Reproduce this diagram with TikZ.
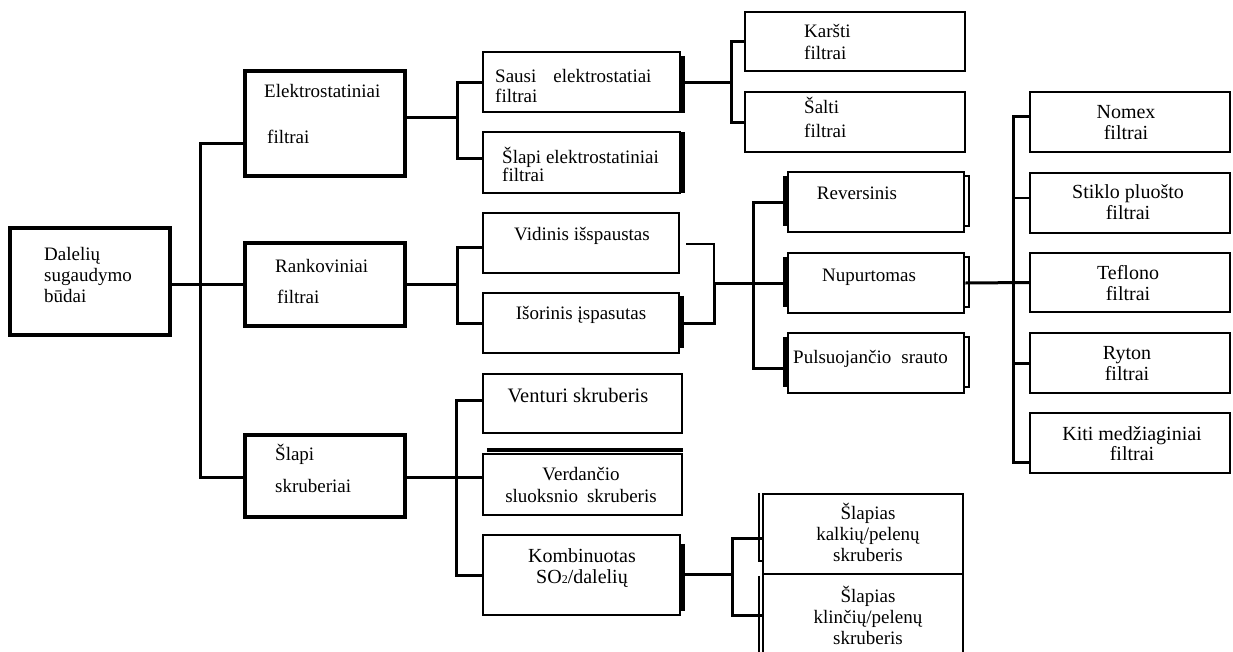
\documentclass[tikz,border=0pt]{standalone}
\usepackage{fontspec}
\setmainfont{Liberation Serif}
\begin{document}
\begin{tikzpicture}[x=1pt,y=-1pt,
  box/.style={draw, rectangle, line width=2.5pt, inner sep=0pt},
  heavybox/.style={box, line width=3.2pt},
  conn/.style={line width=3pt},
  thinconn/.style={line width=1.6pt},
  sidebar/.style={line width=3.8pt},
  bracket/.style={line width=1.8pt},
  txt/.style={inner sep=0pt, font=\fontsize{19}{21}\selectfont},
  midtxt/.style={inner sep=0pt, font=\fontsize{20}{21}\selectfont},
  bigtxt/.style={inner sep=0pt, font=\fontsize{20.5}{21}\selectfont}]
\useasboundingbox (0,0) rectangle (1233,651);

% ---- boxes
\node[heavybox, minimum width=160pt, minimum height=107pt] (root) at (90,281.5) {};
\node[heavybox, minimum width=160pt, minimum height=105pt] (elek) at (325,123.5) {};
\node[heavybox, minimum width=160pt, minimum height=83pt] (rank) at (325,284.5) {};
\node[heavybox, minimum width=160pt, minimum height=82pt] (slsk) at (325,476) {};

\node[box, minimum width=197pt, minimum height=60pt] (sausi) at (581.5,82) {};
\node[box, minimum width=197pt, minimum height=61pt] (slel) at (581.5,162.5) {};
\node[box, minimum width=220pt, minimum height=59pt] (karsti) at (855,41.5) {};
\node[box, minimum width=220pt, minimum height=60pt] (salti) at (855,122) {};

\node[box, minimum width=196pt, minimum height=60pt] (vid) at (581,243) {};
\node[box, minimum width=196pt, minimum height=60pt] (isor) at (581,323) {};
\node[box, minimum width=176pt, minimum height=60pt] (rev) at (876,202) {};
\node[box, minimum width=176pt, minimum height=60pt] (nup) at (876,283) {};
\node[box, minimum width=176pt, minimum height=60pt] (puls) at (876,363) {};

\node[box, minimum width=200pt, minimum height=60pt] (nomex) at (1130,122) {};
\node[box, minimum width=200pt, minimum height=60pt] (stiklo) at (1130,203) {};
\node[box, minimum width=200pt, minimum height=59pt] (tefl) at (1130,282.5) {};
\node[box, minimum width=200pt, minimum height=60pt] (ryton) at (1130,363) {};
\node[box, minimum width=200pt, minimum height=60pt] (kiti) at (1130,443) {};

\node[box, minimum width=199pt, minimum height=59pt] (vent) at (582.5,403.5) {};
\node[box, minimum width=199pt, minimum height=61pt] (verd) at (582.5,484.5) {};
\node[box, minimum width=197pt, minimum height=80pt] (komb) at (581.5,575) {};
\node[box, minimum width=200pt, minimum height=80pt] (kalk) at (863,534) {};
\node[box, minimum width=200pt, minimum height=86pt] (klin) at (863,617) {};

% ---- bus junctions
\coordinate (busE) at (457,117);
\coordinate (busS) at (731,82);
\coordinate (busR) at (457,284.5);
\coordinate (jV)   at (714,283);
\coordinate (busN) at (753,283);
\coordinate (busT) at (1013,283);
\coordinate (busW) at (456,477);
\coordinate (busK) at (732,574);

% ---- connectors
\draw[conn] ([yshift=-19.5pt]elek.west) -| ([xshift=-43pt]slsk.west |- busW) -- (slsk.west |- busW);
\draw[conn] (root.east |- rank.west) -- (rank.west);

\draw[conn] (elek.east |- busE) -- (busE);
\draw[conn] (sausi.west) -| (busE) |- ([yshift=4.5pt]slel.west);

\draw[conn] (sausi.east) -- (busS);
\draw[conn] (karsti.west) -| (busS) |- (salti.west);

\draw[conn] (rank.east |- busR) -- (busR);
\draw[conn] ([yshift=-4pt]vid.west) -| (busR) |- (isor.west);

\draw[thinconn] ([xshift=6pt,yshift=-1pt]vid.east) -| (jV);
\draw[conn] (isor.east) -| (jV);
\draw[conn] (jV) -- (nup.west);
\draw[conn] (rev.west) -| (busN) |- ([yshift=-5pt]puls.west);

\draw[conn] (nup.east) -- (tefl.west);
\draw[conn] ([yshift=6pt]nomex.west) -| (busT) |- ([yshift=-19pt]kiti.west);
\draw[thinconn] ([yshift=5pt]stiklo.west) -- ++(-17pt,0);
\draw[conn] (ryton.west) -- ++(-17pt,0);

\draw[conn] (slsk.east |- busW) -- (busW) -- (verd.west |- busW);
\draw[conn] ([yshift=3.5pt]vent.west) -| (busW) |- (komb.west);

\draw[conn] (komb.east |- busK) -- (busK);
\draw[conn] ([yshift=-4pt]kalk.west) -| (busK) |- ([yshift=2pt]klin.west);

% ---- heavy side edges
\draw[sidebar] ([xshift=1.5pt,yshift=-5pt]sausi.north east) -- ([xshift=1.5pt]sausi.south east);
\draw[sidebar] ([xshift=1.5pt,yshift=-1pt]slel.north east) -- ([xshift=1.5pt,yshift=1pt]slel.south east);
\draw[sidebar] ([xshift=1.5pt,yshift=-4pt]isor.north east) -- ([xshift=1.5pt,yshift=6pt]isor.south east);
\draw[sidebar] ([xshift=1.5pt,yshift=-10pt]komb.north east) -- ([xshift=1.5pt,yshift=5pt]komb.south east);
\foreach \b in {rev,nup,puls}{
  \draw[sidebar] ([xshift=-1.5pt,yshift=-5pt]\b.north west) -- ([xshift=-1.5pt,yshift=7pt]\b.south west);
  \draw[bracket] ([yshift=-5pt]\b.north east) -- ++(4pt,0) -- ([xshift=4pt,yshift=7pt]\b.south east) -- ++(-4pt,0);
}
\draw[sidebar] ([xshift=5pt,yshift=2.5pt]verd.north west) -- ([yshift=2.5pt]verd.north east);
\draw[bracket] ([xshift=-3pt]kalk.north west) -- ([xshift=-3pt,yshift=14pt]kalk.south west) -- ++(3pt,0);
\draw[bracket] ([xshift=-3pt,yshift=-3pt]klin.north west) -- ([xshift=-3pt]klin.south west);

% ---- labels (base anchor = baseline of the last line)
\node[txt, align=left, anchor=base west] (root-t) at (44,302) {Dalelių\\sugaudymo\\būdai};
\node[txt, align=left, anchor=base west] (elek-t) at (264,143) {Elektrostatiniai\\[25pt]\hspace*{3pt}filtrai};
\node[txt, align=left, anchor=base west] (rank-t) at (275,303) {Rankoviniai\\[10pt]\hspace*{2pt}filtrai};
\node[txt, align=left, anchor=base west] (slsk-t) at (275,492) {Šlapi\\[11pt]skruberiai};

\node[txt, align=left, anchor=base west] (sausi-t) at (495,102) {Sausi\hspace{17pt}elektrostatiai\\[-1pt]filtrai};
\node[txt, align=left, anchor=base west] (slel-t) at (502,181) {Šlapi elektrostatiniai\\[-3pt]filtrai};
\node[txt, align=left, anchor=base west] (karsti-t) at (804,59) {Karšti\\[1pt]filtrai};
\node[txt, align=left, anchor=base west] (salti-t) at (804,137) {Šalti\\[3pt]filtrai};

\node[txt, anchor=base] (vid-t) at (582,240) {Vidinis išspaustas};
\node[txt, anchor=base] (isor-t) at (581,319) {Išorinis įspasutas};
\node[txt, anchor=base] (rev-t) at (857,199) {Reversinis};
\node[txt, anchor=base] (nup-t) at (869,281) {Nupurtomas};
\node[txt, anchor=base west] (puls-t) at (793,363) {Pulsuojančio\hspace{10pt}srauto};

\node[midtxt, align=center, anchor=base] (nomex-t) at (1126,139) {Nomex\\filtrai};
\node[midtxt, align=center, anchor=base] (stiklo-t) at (1128,219) {Stiklo pluošto\\filtrai};
\node[midtxt, align=center, anchor=base] (tefl-t) at (1128,300) {Teflono\\filtrai};
\node[midtxt, align=center, anchor=base] (ryton-t) at (1127,380) {Ryton\\filtrai};
\node[midtxt, align=center, anchor=base] (kiti-t) at (1132,460) {Kiti medžiaginiai\\[-1pt]filtrai};

\node[bigtxt, anchor=base] (vent-t) at (578,402) {Venturi skruberis};
\node[txt, align=center, anchor=base] (verd-t) at (581,502) {Verdančio\\[1pt]sluoksnio\hspace{9pt}skruberis};
\node[midtxt, align=center, anchor=base] (komb-t) at (582,583) {Kombinuotas\\SO{\fontsize{12}{12}\selectfont 2}/dalelių};
\node[txt, align=center, anchor=base] (kalk-t) at (868,561) {Šlapias\\kalkių/pelenų\\skruberis};
\node[txt, align=center, anchor=base] (klin-t) at (868,644) {Šlapias\\klinčių/pelenų\\skruberis};
\end{tikzpicture}
\end{document}
